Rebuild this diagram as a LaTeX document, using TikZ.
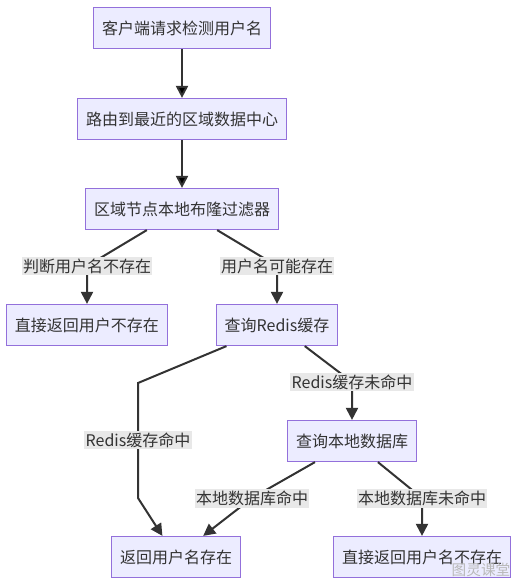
\documentclass[tikz,border=0pt]{standalone}
\usepackage{fontspec}
\setmainfont{Noto Sans CJK SC}
\usetikzlibrary{arrows.meta}
\definecolor{boxfill}{HTML}{ECECFF}
\definecolor{boxline}{HTML}{9370DB}
\definecolor{ink}{HTML}{333333}
\definecolor{lblfill}{HTML}{E8E8E8}

\begin{document}
\begin{tikzpicture}[x=0.75pt, y=-0.75pt,
    box/.style={draw=boxline, fill=boxfill, line width=0.9pt, text=ink,
        inner xsep=6.3pt, minimum height=30.75pt, font=\fontsize{12pt}{14pt}\selectfont},
    lbl/.style={fill=lblfill, text=ink, inner xsep=1pt, inner ysep=1.5pt,
        font=\fontsize{12pt}{14pt}\selectfont},
    flow/.style={draw=ink, line width=1.5pt, -{Triangle[length=9pt, width=9pt]}}]

    \useasboundingbox (0,0) rectangle (518,586);

    \node[box] (req)      at (182, 28)  {客户端请求检测用户名};
    \node[box] (route)    at (182, 119) {路由到最近的区域数据中心};
    \node[box] (bloom)    at (182, 209) {区域节点本地布隆过滤器};
    \node[box] (nouser)   at (87, 325)  {直接返回用户不存在};
    \node[box] (redis)    at (277, 325) {查询Redis缓存};
    \node[box] (db)       at (352, 441) {查询本地数据库};
    \node[box] (found)    at (176, 557) {返回用户名存在};
    \node[box] (notfound) at (422, 557) {直接返回用户名不存在};

    \coordinate (k1) at (87, 266);
    \coordinate (k2) at (277, 266);
    \coordinate (k3) at (352, 382);
    \coordinate (k4) at (138, 440);
    \coordinate (k5) at (252, 498);
    \coordinate (k6) at (422, 498);
    \coordinate (hitA) at (138, 383);
    \coordinate (hitB) at (138, 498);

    \path[flow]
        (req) edge (route)
        (route) edge (bloom);
    \draw[flow] (bloom) -- (k1) -- (nouser);
    \draw[flow] (bloom) -- (k2) -- (redis);
    \draw[flow] (redis) -- (k3) -- (db);
    \draw[flow] (redis) -- (hitA) -- (hitB) -- (found);
    \draw[flow] (db) -- (k5) -- (found);
    \draw[flow] (db) -- (k6) -- (notfound);

    \node[lbl] (l1) at (k1) {判断用户名不存在};
    \node[lbl] (l2) at (k2) {用户名可能存在};
    \node[lbl] (l3) at (k3) {Redis缓存未命中};
    \node[lbl] (l4) at (k4) {Redis缓存命中};
    \node[lbl] (l5) at (k5) {本地数据库命中};
    \node[lbl] (l6) at (k6) {本地数据库未命中};

    \node[text=gray!55, font=\fontsize{11pt}{13pt}\selectfont] (mark) at (481, 570) {图灵课堂};
\end{tikzpicture}
\end{document}
